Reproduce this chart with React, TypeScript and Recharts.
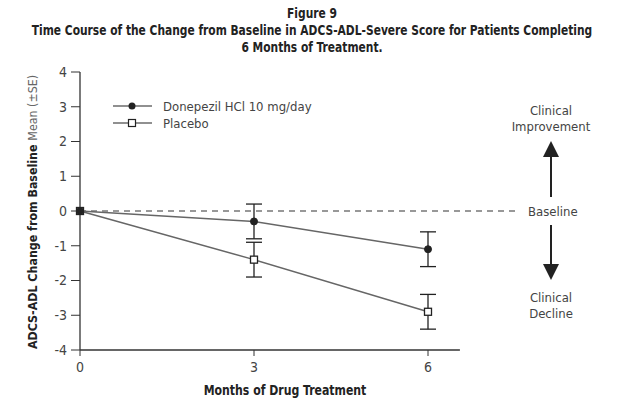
import React from 'react';
import { LineChart, Line, XAxis, YAxis, ReferenceLine, ErrorBar, Customized } from 'recharts';

const FONT = '"DejaVu Sans", sans-serif';
const STRETCH = 'condensed';

// values
const months = [0, 3, 6];
const donepezil = [0, -0.3, -1.1];
const donepezilSE = [0, 0.5, 0.5];
const placebo = [0, -1.4, -2.9];
const placeboSE = [0, 0.5, 0.5];
const yTicks = [-4, -3, -2, -1, 0, 1, 2, 3, 4];
const xTicks = [0, 3, 6];

const titleLines = [
  'Figure 9',
  'Time Course of the Change from Baseline in ADCS-ADL-Severe Score for Patients Completing',
  '6 Months of Treatment.',
];

const data = months.map((m, i) => ({
  month: m,
  donepezil: donepezil[i],
  donepezilSE: donepezilSE[i],
  placebo: placebo[i],
  placeboSE: placeboSE[i],
}));

const INK = '#222';
const LINE = '#666';
const TXT = '#444';

const SquareDot = (props: any) => {
  const { cx, cy } = props;
  if (cx == null || cy == null) return null;
  return <rect x={cx - 3.5} y={cy - 3.5} width={7} height={7} fill="#fff" stroke={INK} strokeWidth={1.3} />;
};

const Overlay = () => (
  <g fontFamily={FONT} style={{ fontStretch: STRETCH }}>
    <g transform="translate(312,0) scale(0.88,1)">
      {titleLines.map((t, i) => (
        <text key={i} x={0} y={18 + i * 17} textAnchor="middle" fontSize={13.5} fontWeight="bold" fill={INK}>
          {t}
        </text>
      ))}
    </g>
    <text transform="translate(37,212) rotate(-90) scale(0.95,1)" x={0} y={0} textAnchor="middle" fontSize={13} fill={INK}>
      <tspan fontWeight="bold">ADCS-ADL Change from Baseline </tspan>
      <tspan fill="#666">Mean (±SE)</tspan>
    </text>
    <text transform="translate(285,395) scale(0.9,1)" x={0} y={0} textAnchor="middle" fontSize={13.5} fontWeight="bold" fill={INK}>
      Months of Drug Treatment
    </text>
    {/* legend */}
    <line x1={113} y1={106} x2={152} y2={106} stroke={INK} strokeWidth={1.2} />
    <circle cx={132} cy={106} r={3.5} fill={INK} />
    <text x={163} y={110.5} fontSize={13} fill={TXT}>Donepezil HCl 10 mg/day</text>
    <line x1={113} y1={123} x2={152} y2={123} stroke={INK} strokeWidth={1.2} />
    <rect x={128.5} y={119.5} width={7} height={7} fill="#fff" stroke={INK} strokeWidth={1.2} />
    <text x={163} y={127.5} fontSize={13} fill={TXT}>Placebo</text>
    {/* right-hand annotations */}
    <g fontSize={13} fill={TXT} textAnchor="middle">
      <text x={551} y={115}>Clinical</text>
      <text x={551} y={131}>Improvement</text>
      <text x={551} y={302}>Clinical</text>
      <text x={551} y={318}>Decline</text>
    </g>
    <line x1={551} y1={155} x2={551} y2={197} stroke={INK} strokeWidth={2} />
    <polygon points="543,157 559,157 551,141" fill={INK} />
    <line x1={551} y1={225} x2={551} y2={266} stroke={INK} strokeWidth={2} />
    <polygon points="543,264 559,264 551,280" fill={INK} />
  </g>
);

const tickStyle = { fontFamily: FONT, fontSize: 14, fill: TXT, style: { fontStretch: STRETCH } };

export default function App() {
  return (
    <div style={{ position: 'absolute', left: 0, top: 0, background: '#fff' }}>
      <LineChart width={624} height={409} data={data} margin={{ top: 72, right: 109, bottom: 29, left: 30 }}>
        <XAxis
          dataKey="month"
          type="number"
          domain={[0, 7.5]}
          ticks={xTicks}
          axisLine={false}
          tickLine={{ stroke: '#333' }}
          tickSize={6}
          tickMargin={6}
          height={30}
          tick={tickStyle}
        />
        <YAxis
          type="number"
          domain={[-4, 4]}
          ticks={yTicks}
          width={50}
          axisLine={{ stroke: '#333', strokeWidth: 1.3 }}
          tickLine={{ stroke: '#333' }}
          tickSize={9}
          tickMargin={4}
          tick={tickStyle}
        />
        <ReferenceLine
          segment={[{ x: 0, y: -4 }, { x: 6.55, y: -4 }]}
          stroke="#333"
          strokeWidth={1.3}
        />
        <ReferenceLine
          y={0}
          stroke="#777"
          strokeDasharray="6 5"
          strokeWidth={1.3}
          label={{ value: 'Baseline', position: 'right', offset: 13, fontFamily: FONT, fontSize: 13, fill: TXT, style: { fontStretch: STRETCH } }}
        />
        <Line
          dataKey="placebo"
          stroke={LINE}
          strokeWidth={1.5}
          dot={<SquareDot />}
          activeDot={false}
          isAnimationActive={false}
        >
          <ErrorBar dataKey="placeboSE" direction="y" width={8} stroke={INK} strokeWidth={1.3} />
        </Line>
        <Line
          dataKey="donepezil"
          stroke={LINE}
          strokeWidth={1.5}
          dot={{ r: 3.5, fill: INK, stroke: INK, strokeWidth: 1 }}
          activeDot={false}
          isAnimationActive={false}
        >
          <ErrorBar dataKey="donepezilSE" direction="y" width={8} stroke={INK} strokeWidth={1.3} />
        </Line>
        <Customized component={Overlay} />
      </LineChart>
    </div>
  );
}
